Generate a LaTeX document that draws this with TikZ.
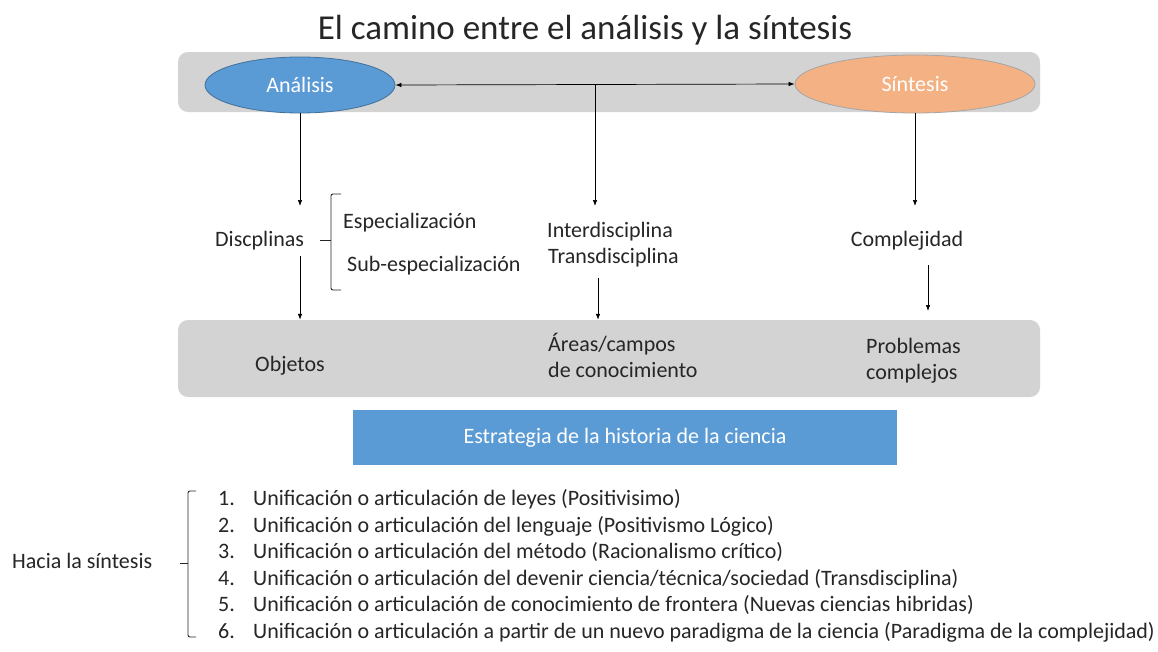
\documentclass[tikz,border=0pt]{standalone}
\usepackage{fontspec}
\setmainfont{Carlito}
\usetikzlibrary{arrows.meta,shapes.geometric}
\definecolor{boxgrey}{HTML}{D3D3D3}
\definecolor{blu}{HTML}{5B9BD5}
\definecolor{bluedge}{HTML}{41719C}
\definecolor{orng}{HTML}{F4B183}
\definecolor{orngedge}{HTML}{A5A5A5}
\definecolor{txt}{HTML}{262626}
\tikzset{
 lbl/.style={font=\fontsize{22}{26}\selectfont, text=txt, inner sep=0pt, anchor=base west},
 clbl/.style={font=\fontsize{22}{26}\selectfont, text=txt, inner sep=0pt, anchor=base},
 greybox/.style={fill=boxgrey, draw=none, rounded corners=10pt},
 arr/.style={-{Latex[length=6pt,width=4.5pt]}, line width=0.7pt, draw=black},
 darr/.style={{Latex[length=6pt,width=4.5pt]}-{Latex[length=6pt,width=4.5pt]}, line width=0.7pt, draw=black},
 brk/.style={line width=0.9pt, draw=txt, rounded corners=2pt},
 ell/.style={ellipse, inner sep=0pt, text=white, font=\fontsize{22}{26}\selectfont, line width=0.8pt}
}
\begin{document}
\begin{tikzpicture}[x=1pt,y=-1pt]
\useasboundingbox (0,0) rectangle (1158,651);
\fill[white] (0,0) rectangle (1158,651);
% title
\node[font=\fontsize{35}{40}\selectfont, text=txt, inner sep=0pt, anchor=base] (title) at (585,39) {El camino entre el análisis y la síntesis};
% top bar
\node[greybox, minimum width=862pt, minimum height=60pt] (topbar) at (609,82) {};
\node[ell, fill=blu, draw=bluedge, minimum width=190pt, minimum height=56pt] (ana) at (300,85) {Análisis};
\node[ell, fill=orng, draw=orngedge, minimum width=240pt, minimum height=58pt] (sin) at (915,84) {Síntesis};
\draw[darr] (ana.east) -- (sin.west);
\coordinate (mid) at (595,85);
% middle labels
\node[lbl] (disc) at (215,246.5) {Discplinas};
\node[lbl] (esp) at (343,228.5) {Especialización};
\node[lbl] (subesp) at (347,271.5) {Sub-especialización};
\node[lbl] (inter) at (547,237.5) {Interdisciplina};
\node[lbl] (trans) at (548,263.5) {Transdisciplina};
\node[clbl] (comp) at (907,246.5) {Complejidad};
% bracket
\draw[brk] (341,194) -- (331,194) -- (331,290) -- (341,290);
\draw[brk] (320,240) -- (331,240);
% bottom bar
\node[greybox, minimum width=862pt, minimum height=77pt] (botbar) at (609,358.5) {};
\node[clbl] (obj) at (290,371.5) {Objetos};
\node[lbl] (areas) at (548,351.5) {Áreas/campos};
\node[lbl] (conoc) at (548,377.5) {de conocimiento};
\node[lbl] (prob) at (866,353.5) {Problemas};
\node[lbl] (compl) at (866,379.5) {complejos};
% arrows
\coordinate (a1) at (300,206);
\coordinate (a2) at (595,206);
\coordinate (a3) at (915,206);
\draw[arr] (ana.south -| a1) -- (a1);
\draw[arr] (mid) -- (a2);
\draw[arr] (sin.south -| a3) -- (a3);
\coordinate (b1s) at (300,256);
\coordinate (b2s) at (598,278);
\coordinate (b3s) at (928,265);
\draw[arr] (b1s) -- (b1s |- botbar.north);
\draw[arr] (b2s) -- (b2s |- botbar.north);
\draw[arr] (b3s) -- (928,311);
% blue bar
\node[fill=blu, draw=none, minimum width=544pt, minimum height=55pt, text=white, font=\fontsize{22}{26}\selectfont] (estr) at (625,437.5) {Estrategia de la historia de la ciencia};
% list
\node[lbl] (hacia) at (12,568) {Hacia la síntesis};
\draw[brk] (196,491) -- (188,491) -- (188,637) -- (196,637);
\draw[brk] (180,563) -- (188,563);
\foreach \i/\t [count=\k] in {
 1/{Unificación o articulación de leyes (Positivisimo)},
 2/{Unificación o articulación del lenguaje (Positivismo Lógico)},
 3/{Unificación o articulación del método (Racionalismo crítico)},
 4/{Unificación o articulación del devenir ciencia/técnica/sociedad (Transdisciplina)},
 5/{Unificación o articulación de conocimiento de frontera (Nuevas ciencias hibridas)},
 6/{Unificación o articulación a partir de un nuevo paradigma de la ciencia (Paradigma de la complejidad)}}
{
 \node[lbl] (n\i) at (218,{478.9+26.6*\k}) {\i.};
 \node[lbl] (l\i) at (253,{478.9+26.6*\k}) {\t};
}
\end{tikzpicture}
\end{document}
